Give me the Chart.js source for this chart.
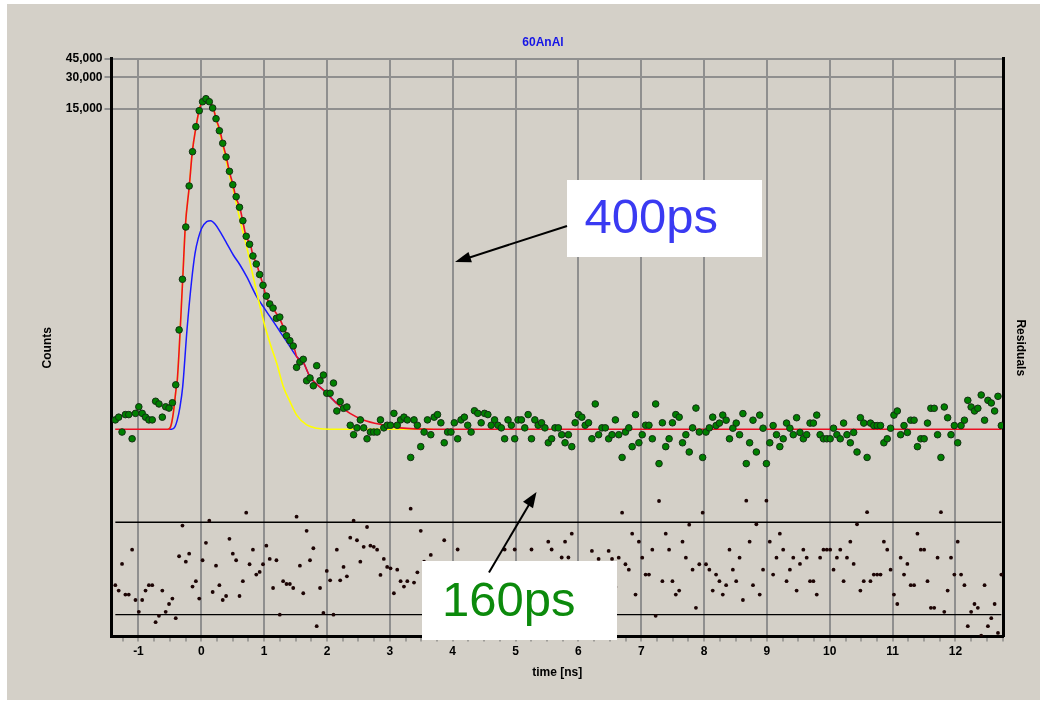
<!DOCTYPE html>
<html>
<head>
<meta charset="utf-8">
<script src="https://cdn.jsdelivr.net/npm/chart.js@4.4.1/dist/chart.umd.min.js"></script>
<style>
html,body{margin:0;padding:0;background:#ffffff;}
#wrap{position:relative;width:1046px;height:705px;overflow:hidden;}
#panel{position:absolute;left:7px;top:4px;width:1033px;height:696px;background:#d4d0c8;}
#c{position:absolute;left:0;top:0;}
#arrows{position:absolute;left:0;top:0;}
.note{position:absolute;background:#ffffff;font-family:Arial,"Liberation Sans",sans-serif;font-size:49px;}
.note span{position:absolute;line-height:49px;white-space:nowrap;}
</style>
</head>
<body>
<div id="wrap">
  <div id="panel"></div>
  <canvas id="c" width="1046" height="705"></canvas>
  <div class="note" style="left:567px;top:180px;width:195px;height:77px;"><span style="left:17.5px;top:11.5px;color:#3a3af2;">400ps</span></div>
  <div class="note" style="left:422px;top:561px;width:195px;height:79px;"><span style="left:20px;top:13.5px;color:#0c8a0c;">160ps</span></div>
  <svg id="arrows" width="1046" height="705">
    <line x1="567" y1="226" x2="468" y2="258" stroke="#000" stroke-width="2"/>
    <polygon points="455,262 471.9,262.3 468.5,251.9" fill="#000"/>
    <line x1="489" y1="572.5" x2="530" y2="503" stroke="#000" stroke-width="2"/>
    <polygon points="536.5,492 523,501.7 533,508.3" fill="#000"/>
  </svg>
</div>
<script>
// ---- data ----
const timeStart = -1.368;   // ns, first channel
const timeStep = 0.0534;    // ns per channel

const counts = [
 16.2,17.2,12.4,18.2,18.2,10.7,18.7,21.6,18.7,17.2,16.2,16.2,24.4,23.0,17.2,21.6,21.0,23.6,
 35,117,
 356,1122,2763,5870,10170,14450,17610,18810,17610,15330,12120,9310,7060,5224,3815,2843,2184,1730,1289,915,768,594,498,395,
 312,
 246,207,189,151,155,120,103,92.3,82.2,51.4,57.8,61.3,38.3,40.7,34.3,53.3,38.3,43.4,29.1,29.1,36.4,19.7,24.2,20.9,21.5,14.4,11.7,13.6,16.2,13.6,10.7,12.4,12.4,12.4,16.2,13.6,14.4,14.4,18.7,14.4,16.2,17.2,16.2,7.1,
 16.2,14.4,9.0,12.4,16.2,11.7,17.2,18.2,15.2,9.8,
 12.4,12.4,15.2,10.7,16.2,17.2,14.4,12.4,19.8,18.7,
 15.2,18.7,18.2,14.4,16.2,14.4,13.6,10.7,16.2,14.4,
 10.7,16.2,16.2,13.6,18.2,10.7,16.2,14.4,15.2,13.6,
 9.8,10.7,13.6,13.6,11.7,9.8,11.7,9.0,15.2,18.2,
 17.2,14.4,15.2,10.7,23.0,11.7,13.6,13.6,10.7,11.7,
 16.2,11.7,7.1,12.4,13.6,9.0,18.2,9.8,11.7,14.4,
 14.4,10.7,23.0,6.2,15.2,9.0,10.7,15.2,18.2,17.2,
 9.8,11.7,8.0,13.6,21.0,12.4,7.1,12.4,13.6,17.2,
 14.3,15.1,18.0,16.1,10.7,13.5,15.1,11.7,18.6,6.2,
 9.8,16.1,8.0,18.0,13.5,6.2,9.8,14.3,11.7,9.0,
 10.7,15.1,13.5,11.7,17.0,12.3,10.7,11.7,15.1,15.1,
 18.0,11.7,10.7,10.7,10.7,13.5,11.7,10.7,15.1,11.7,
 9.8,12.3,8.0,17.0,15.1,7.1,15.1,14.3,14.3,14.3,
 9.8,10.7,13.5,18.0,19.7,11.7,14.3,12.3,16.1,16.1,
 9.0,10.7,10.7,15.1,20.9,20.9,11.7,7.1,21.5,17.0,
 11.7,14.3,9.8,14.3,16.1,24.9,21.5,19.7,20.9,28.0,
 16.1,24.9,23.5,19.7,27.2,14.3
];

const residuals = [
 -1.09,-1.44,0.29,-1.70,-1.70,1.22,-2.05,-2.82,-2.05,-1.44,
 -1.09,-1.09,-3.49,-3.08,-1.44,-2.82,-2.31,-1.96,-3.23,0.79,
 2.78,0.44,0.96,-1.18,-0.83,-1.96,0.53,1.66,3.10,-1.53,
 0.18,-1.09,-2.05,-1.79,1.92,0.96,0.53,-1.79,-0.83,3.62,
 0.27,1.22,-0.40,-0.23,0.27,
 1.48,0.62,-1.27,0.53,-3.00,-0.83,-1.01,-1.01,-1.27,3.36,
 0.18,-1.61,2.44,0.53,1.31,-3.75,-1.27,-2.89,-0.16,-0.77,
 -3.00,1.22,-0.77,0.10,-0.51,2.00,3.10,1.83,0.44,1.40,
 2.69,1.48,1.40,1.22,-0.42,0.62,0.10,0.01,-1.61,-0.08,
 -0.83,-1.18,-0.83,3.88,
 -0.92,-0.25,2.44,0.44,-1.20,0.88,-1.53,-1.85,-0.88,1.83,
 0.36,0.36,-0.88,1.23,-1.20,-1.53,-0.55,0.36,-2.37,-2.05,
 -0.88,-2.05,-1.85,-0.55,-1.20,-0.55,-0.23,1.23,-1.20,-0.55,
 1.23,-1.20,-1.20,-0.23,-1.85,1.23,-1.20,-0.55,-0.88,-0.23,
 1.74,1.23,-0.23,-0.23,0.71,1.74,0.71,2.26,-0.88,-1.85,
 -1.53,-0.55,-0.88,1.14,-3.15,0.62,-0.23,-0.23,1.14,0.62,
 -1.20,0.70,3.62,0.27,-0.08,2.26,-1.70,1.74,0.70,-0.40,
 -0.40,1.22,-3.08,4.38,-0.83,2.26,1.22,-0.83,-1.70,-1.44,
 1.74,0.70,2.84,-0.08,-2.56,0.27,3.62,0.27,-0.08,-1.44,
 -0.40,-0.83,-1.70,-1.09,1.22,-0.08,-0.83,0.70,-2.05,4.40,
 1.74,-1.09,2.87,-1.70,-0.08,4.40,1.74,-0.40,0.70,2.26,
 1.22,-0.83,-0.08,0.70,-1.44,0.29,1.22,0.70,-0.83,-0.83,
 -1.70,0.70,1.22,1.22,1.22,-0.08,0.70,1.22,-0.83,0.70,
 1.74,0.29,2.87,-1.44,-0.83,3.65,-0.83,-0.40,-0.40,-0.40,
 1.74,1.22,-0.08,-1.70,-2.31,0.70,-0.40,0.29,-1.09,-1.09,
 2.26,1.22,1.22,-0.83,-2.56,-2.56,0.70,3.65,-2.82,-1.44,
 0.70,-0.40,1.74,-0.40,-1.09,-3.75,-2.82,-2.31,-2.56,-4.36,
 -1.09,-3.75,-3.23,-2.31,-4.19,-0.40
];

// total fit (red)
const fitTotalTime = [-1.37,-0.53,-0.487,-0.446,-0.403,-0.382,-0.296,-0.255,-0.191,-0.143,-0.084,-0.037,0.016,0.075,0.127,0.191,0.234,0.298,0.340,0.398,0.446,0.504,0.547,0.611,0.659,0.711,0.780,0.823,0.881,0.929,0.986,1.029,1.136,1.241,1.347,1.470,1.518,1.618,1.729,1.941,2.154,2.366,2.578,2.896,3.162,3.691,12.73];
const fitTotal     = [13.2,13.2,14.0,18.7,31.3,38.9,355.7,1122,2763,5870,10170,14450,17610,18550,17610,15330,12120,9310,7060,5224,3815,2843,2184,1730,1289,915,768,594,498,397,312,246,189,152,110,82,65,58,41.8,31.3,23.3,18.7,16.2,14.5,13.6,13.2,13.2];
// slow component (blue)
const fitSlowTime = [-0.52,-0.471,-0.418,-0.382,-0.339,-0.296,-0.228,-0.153,-0.100,-0.048,0.006,0.086,0.150,0.218,0.298,0.404,0.509,0.616,0.722,0.881,0.986,1.093,1.200,1.305,1.411,1.518,1.618,1.729,1.941,2.154];
const fitSlow     = [13.2,13.2,14.0,16.2,21.6,33.6,116.8,350.3,629.8,875.6,1091,1261,1289,1199,1012,784.6,606.7,487.1,376.6,242.8,194.8,156.4,125.6,100.8,80.9,65.0,58,41.8,31.3,23.3];
// fast component (yellow)
const fitFastTime = [-0.53,-0.487,-0.446,-0.403,-0.382,-0.296,-0.255,-0.191,-0.143,-0.084,-0.037,0.016,0.075,0.127,0.191,0.234,0.340,0.446,0.509,0.616,0.722,0.802,0.881,0.986,1.093,1.200,1.305,1.411,1.518,1.677,1.836,2.048,3.687];
const fitFast     = [13.2,14.0,18.7,31.3,38.9,355.7,1122,2763,5870,10170,14450,17610,18550,17610,15330,12120,6801,3518,2531,1309,728.2,436.3,269.1,145.5,87.2,56.2,33.6,24.2,18.0,14.5,13.5,13.2,13.2];

// residual limit lines
const bandTime = [-1.368, 12.73];
const bandUpper = [3, 3];
const bandLower = [-3, -3];

// axes
const xMin = -1.429, xMax = 12.756;
const xTickValues = [];
for (let v = -1.25; v <= 12.75; v += 0.25) xTickValues.push(v);
const yTickValues = [15000, 30000, 45000];
const yTickLabels = ['15,000', '30,000', '45,000'];
const yMin = 0.1389, yMax = 45000;
const rMin = -4.42, rMax = 33.08;

// ---- chart ----
Chart.defaults.font.family = 'Arial, "Liberation Sans", Helvetica, sans-serif';
Chart.defaults.font.size = 12;
Chart.defaults.color = '#000';
const gridGray = '#8f8f8f';

const time = counts.map((_, i) => timeStart + i * timeStep);
const pts = (xs, ys) => xs.map((x, i) => ({x: x, y: ys[i]}));

new Chart(document.getElementById('c'), {
  type: 'line',
  data: {
    datasets: [
      {label: 'counts', data: pts(time, counts), yAxisID: 'y', showLine: false,
       pointRadius: 3.3, pointBackgroundColor: '#008000', pointBorderColor: '#142e14', pointBorderWidth: 1, order: 0},
      {label: 'fit', data: pts(fitTotalTime, fitTotal), yAxisID: 'y', borderColor: '#ec1024', borderWidth: 1.6,
       pointRadius: 0, cubicInterpolationMode: 'monotone', order: 1},
      {label: 'fast', data: pts(fitFastTime, fitFast), yAxisID: 'y', borderColor: '#ffff00', borderWidth: 1.6,
       pointRadius: 0, cubicInterpolationMode: 'monotone', order: 2},
      {label: 'slow', data: pts(fitSlowTime, fitSlow), yAxisID: 'y', borderColor: '#1a1aff', borderWidth: 1.5,
       pointRadius: 0, cubicInterpolationMode: 'monotone', order: 3},
      {label: 'residuals', data: pts(time, residuals), yAxisID: 'y2', showLine: false,
       pointRadius: 1.9, pointBackgroundColor: '#1c0404', pointBorderWidth: 0, order: 4},
      {label: 'upper', data: pts(bandTime, bandUpper), yAxisID: 'y2', borderColor: '#000', borderWidth: 1.3, pointRadius: 0, order: 5},
      {label: 'lower', data: pts(bandTime, bandLower), yAxisID: 'y2', borderColor: '#000', borderWidth: 1.3, pointRadius: 0, order: 5}
    ]
  },
  options: {
    responsive: false,
    animation: false,
    devicePixelRatio: 1,
    layout: {padding: {left: 40, right: 0, top: 0, bottom: 0}},
    plugins: {
      legend: {display: false},
      tooltip: {enabled: false},
      title: {display: true, text: '60AnAl', color: '#1515e6',
              font: {size: 12, weight: 'bold'}, padding: {top: 35.8, bottom: 8.8}}
    },
    scales: {
      x: {
        type: 'linear', position: 'bottom', min: xMin, max: xMax,
        afterBuildTicks: s => { s.ticks = xTickValues.map(v => ({value: v})); },
        afterFit: s => { s.height = 68.5; },
        ticks: {autoSkip: false, maxRotation: 0, minRotation: 0, padding: 3,
                font: {weight: 'bold', size: 12},
                callback: v => Number.isInteger(v) ? String(v) : ''},
        grid: {color: c => (c.tick && Number.isInteger(c.tick.value)) ? gridGray : 'rgba(0,0,0,0)',
               lineWidth: 2, tickLength: 5, tickColor: '#6a6a6a', tickWidth: 1},
        border: {display: true, color: '#000', width: 3},
        title: {display: true, text: 'time [ns]', font: {weight: 'bold', size: 12}, padding: {top: 0, bottom: 24.8}}
      },
      y: {
        type: 'logarithmic', position: 'left', min: yMin, max: yMax,
        afterBuildTicks: s => { s.ticks = yTickValues.map(v => ({value: v})); },
        afterFit: s => { s.width = 71.5; },
        ticks: {autoSkip: false, padding: 2, font: {weight: 'bold', size: 12},
                callback: v => yTickLabels[yTickValues.indexOf(v)]},
        grid: {color: gridGray, lineWidth: 2, tickLength: 7, tickColor: gridGray},
        border: {display: true, color: '#000', width: 3},
        title: {display: true, text: 'Counts', font: {weight: 'bold', size: 12}, padding: {top: 0, bottom: 0}}
      },
      y2: {
        type: 'linear', position: 'right', min: rMin, max: rMax,
        afterFit: s => { s.width = 43; },
        ticks: {display: false},
        grid: {display: false},
        border: {display: true, color: '#000', width: 3},
        title: {display: true, text: 'Residuals', font: {weight: 'bold', size: 12}, padding: {top: 18.8, bottom: 0}}
      }
    }
  }
});
</script>
</body>
</html>
